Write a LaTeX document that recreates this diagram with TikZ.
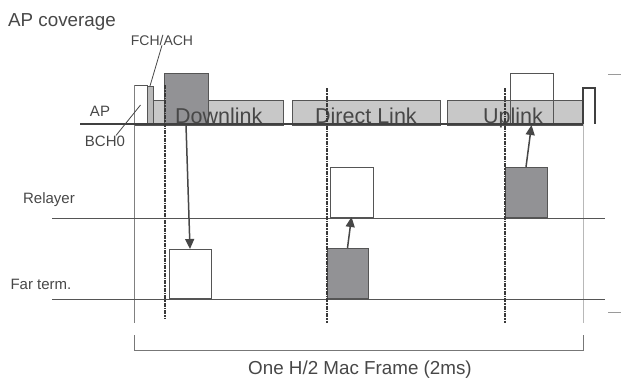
\documentclass[tikz,border=0pt]{standalone}
\usepackage{fontspec}
\setmainfont{Liberation Sans}
\usetikzlibrary{positioning, arrows.meta, calc}
\definecolor{ink}{HTML}{474747}
\definecolor{rule}{HTML}{555555}
\definecolor{slotfill}{HTML}{C8C8C8}
\definecolor{busyfill}{HTML}{929295}
\definecolor{faint}{HTML}{9A9A9A}

\begin{document}
\begin{tikzpicture}[
    x=1pt, y=-1pt,
    lbl/.style={font=\fontsize{15}{15}\selectfont, text=ink, inner sep=0pt},
    phase/.style={font=\fontsize{21.5}{21.5}\selectfont, text=ink, inner sep=0pt, anchor=base west},
    blk/.style={draw=rule, line width=0.8pt, inner sep=0pt, outer sep=0pt},
    slot/.style={blk, fill=slotfill, minimum height=25pt},
    busy/.style={blk, fill=busyfill},
    idle/.style={blk, fill=white},
    lane/.style={draw=rule, line width=1pt},
    frame/.style={draw=faint, line width=0.9pt},
    sync/.style={draw=ink!80!black, line width=2.2pt, dash pattern=on 4pt off 1pt on 1.5pt off 1pt},
    arr/.style={-{Triangle[length=10pt, width=9pt]}, draw=ink, line width=1.5pt},
]
\useasboundingbox (0,0) rectangle (621,380);

\coordinate (apstart) at (80,124);
\coordinate (fend) at (583,124);
\coordinate (fbotl) at (134,323);
\coordinate (fbotr) at (583,323);
\coordinate (relstart) at (52,218);
\coordinate (relend) at (605,218);
\coordinate (farstart) at (52,299);
\coordinate (farend) at (605,299);

\node[lbl, anchor=west, font=\fontsize{18.8}{18.8}\selectfont] (cov) at (8,22) {AP coverage};
\node[lbl, font=\fontsize{14}{14}\selectfont] (fchlbl) at (162,40) {FCH/ACH};
\node[lbl] (aplbl) at (100,111) {AP};
\node[lbl] (bchlbl) at (105,141) {BCH0};
\node[lbl] (rellbl) at (49,200) {Relayer};
\node[lbl] (farlbl) at (41,284) {Far term.};

\node[idle, minimum width=13pt, minimum height=40pt] (bch) at (140.5,105) {};
\node[blk, fill=gray!55, minimum width=6pt, minimum height=39pt] (fch) at (150,105.5) {};
\node[slot, minimum width=130pt] (dlslot) at (218,112.5) {};
\node[slot, minimum width=148pt] (dirslot) at (366,112.5) {};
\node[slot, minimum width=135pt] (upslot) at (514.5,112.5) {};
\node[busy, minimum width=44pt, minimum height=52pt] (apdl) at (186,99) {};
\node[blk, minimum width=43pt, minimum height=52pt] (apup) at (531.5,99) {};

\node[phase] (dltxt) at (175,123) {Downlink};
\node[phase] (dirtxt) at (315,123) {Direct Link};
\node[phase] (uptxt) at (483,123) {Uplink};

\node[idle, minimum width=42pt, minimum height=49pt] (fardl) at (190,273.5) {};
\node[busy, minimum width=41pt, minimum height=50pt] (fardir) at (347.5,273) {};
\node[idle, minimum width=43pt, minimum height=50pt] (reldir) at (351.5,192) {};
\node[busy, minimum width=42pt, minimum height=50pt] (relup) at (526,192) {};

\draw[frame, draw=gray] (bch.north west) -- (fbotl);
\draw[frame, draw=faint!70] (fend) -- (fbotr);
\draw[lane] (relstart) -- (relend);
\draw[lane] (farstart) -- (farend);
\draw[draw=ink!90!black, line width=2pt] (apstart) -- (fend);
\draw[draw=ink!90!black, line width=2.8pt] (fend) -- ++(0,-36) -- ++(12,0) -- ++(0,36);

\draw[sync] (165,85) -- (165,318);
\draw[sync] (327,88) -- (327,323);
\draw[sync] (505,88) -- (505,323);

\draw[ink, line width=0.8pt] (fchlbl.south) -- (fch.north);
\draw[ink, line width=0.8pt] ($(bchlbl.north)+(11,0)$) -- (bch.center);

\draw[arr] (apdl.south) -- (fardl.north);
\draw[arr] (fardir.north) -- (reldir.south);
\draw[arr] (relup.north) -- (apup.south);

\draw[faint, line width=1pt] (608,74) -- (621,74);
\draw[faint, line width=1pt] (608,312) -- (621,312);

\draw[draw=rule!80, line width=1pt] (134,335) -- (134,350) -- (583,350) -- (583,335);
\node[lbl, font=\fontsize{18.8}{18.8}\selectfont] (framelbl) at (360,370) {One H/2 Mac Frame (2ms)};
\end{tikzpicture}
\end{document}
